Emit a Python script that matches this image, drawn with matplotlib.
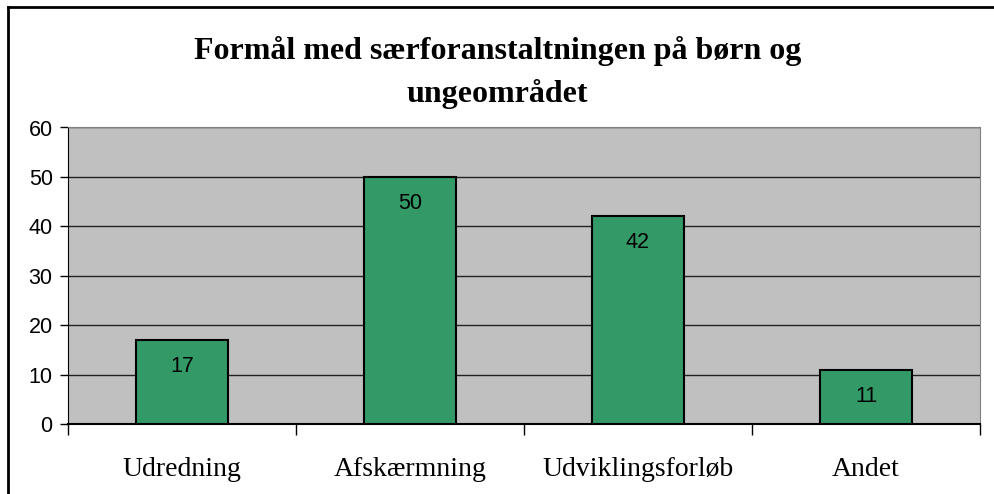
import matplotlib.pyplot as plt
from matplotlib.lines import Line2D
import numpy as np

# data
kategorier = ['Udredning', 'Afskærmning', 'Udviklingsforløb', 'Andet']
antal = [17, 50, 42, 11]
titel = 'Formål med særforanstaltningen på børn og\nungeområdet'

fig = plt.figure(figsize=(9.95, 4.94), dpi=100)
ax = fig.add_axes([68 / 995, 70 / 494, 912 / 995, 296.5 / 494])
ax.set_facecolor('#C0C0C0')

x = np.arange(len(kategorier))
bars = ax.bar(x, antal, width=0.4, color='#339966', edgecolor='black', linewidth=1.5, zorder=3)

for b, v in zip(bars, antal):
    ax.annotate(str(v), (b.get_x() + b.get_width() / 2, v), xytext=(0, -19),
                textcoords='offset points', ha='center', va='center',
                fontsize=15.5, family='Liberation Sans', zorder=4)

ax.set_xlim(-0.5, len(kategorier) - 0.5)
ax.set_ylim(0, 60)
ax.set_yticks(range(0, 61, 10))
ax.set_yticklabels([str(t) for t in range(0, 61, 10)], family='Liberation Sans', fontsize=15.5)
ax.grid(axis='y', color='#222222', linewidth=1, zorder=1)

# kategori-tekster som tekst, tick-streger ved grænser
ax.set_xticks(np.arange(-0.5, len(kategorier), 1))
ax.set_xticklabels([])
ax.tick_params(axis='x', length=8, width=1, color='black', direction='out')
ax.tick_params(axis='y', length=6, width=1, color='black', direction='out', pad=5)
for i, k in enumerate(kategorier):
    ax.text(i, -9.3, k, ha='center', va='center', family='Liberation Serif', fontsize=20,
            transform=ax.transData)

for s in ['top', 'right']:
    ax.spines[s].set_color('#808080')
ax.spines['left'].set_color('black')
ax.spines['bottom'].set_color('black')
ax.spines['bottom'].set_linewidth(1.5)

fig.text(0.5, 0.853, titel, ha='center', va='center', family='Liberation Serif',
         fontsize=23, fontweight='bold', linespacing=1.55)

# ramme (top og venstre)
fig.add_artist(Line2D([8 / 995, 1], [1 - 7 / 494, 1 - 7 / 494], color='black', linewidth=2,
                      transform=fig.transFigure))
fig.add_artist(Line2D([8 / 995, 8 / 995], [0, 1 - 7 / 494], color='black', linewidth=2,
                      transform=fig.transFigure))

fig.savefig('out.png', dpi=100)
